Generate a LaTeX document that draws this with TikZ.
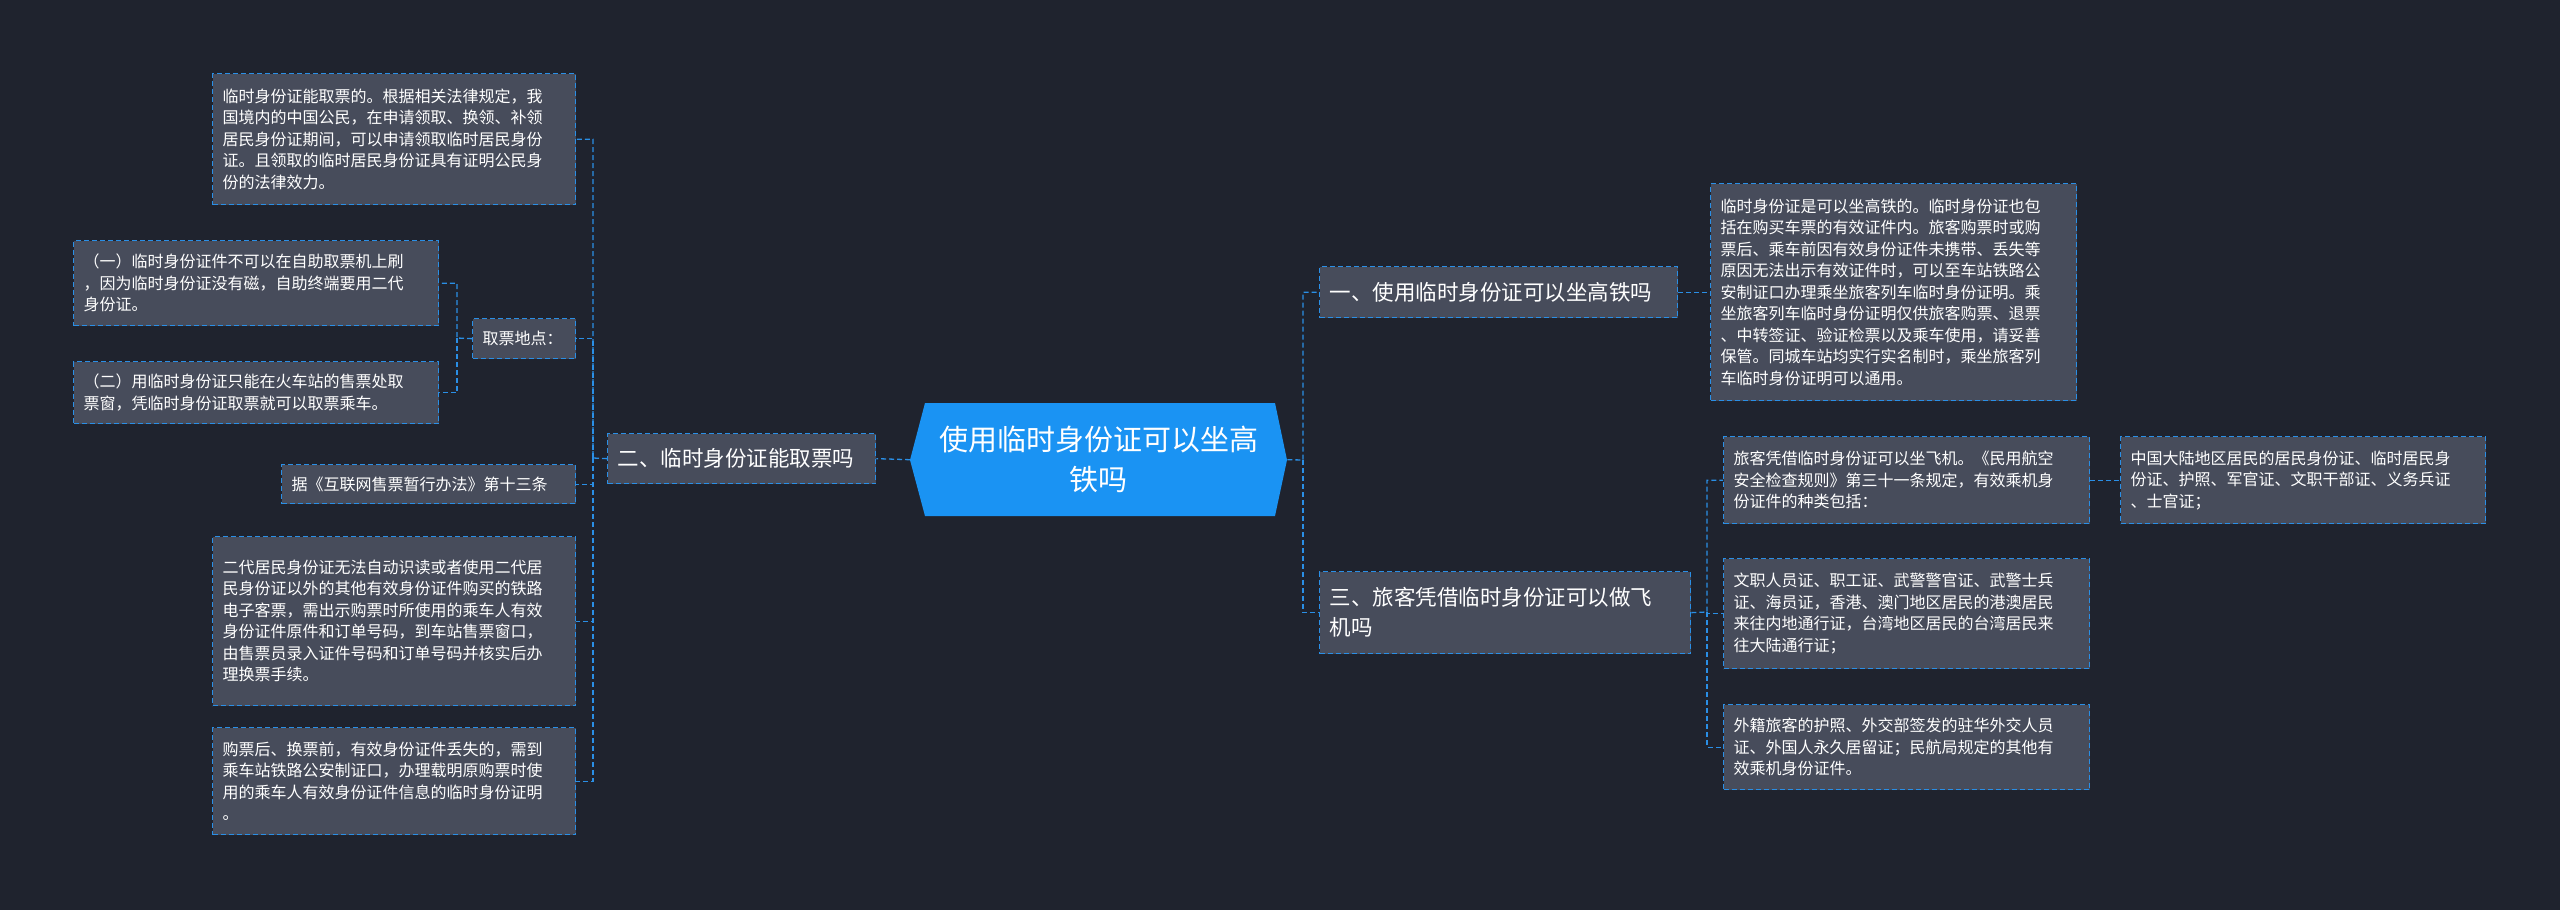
\documentclass[tikz,border=0pt]{standalone}
\usepackage{fontspec}
\setmainfont{Noto Sans CJK SC}
\definecolor{bg}{HTML}{1F232E}
\definecolor{boxc}{HTML}{474C5B}
\definecolor{edge}{HTML}{2A8FE6}
\definecolor{ctr}{HTML}{1A93F3}
\begin{document}
\begin{tikzpicture}[x=1pt,y=-1pt,
  box/.style={draw=edge, dash pattern=on 5pt off 3pt, fill=boxc, text=white, line width=1.3pt,
    anchor=north west, inner xsep=10pt, inner ysep=0pt, align=left,
    font=\fontsize{16}{21.5}\selectfont},
  br/.style={box, font=\fontsize{21.5}{30}\selectfont},
  con/.style={draw=edge, dash pattern=on 5pt off 3pt, line width=1.3pt}]
\fill[bg] (0,0) rectangle (2560,910);
\useasboundingbox (0,0) rectangle (2560,910);
% center
\fill[ctr] (925,403) -- (1275,403) -- (1287,460) -- (1275,516) -- (925,516) -- (910,460) -- cycle;
\node[text=white, align=center, font=\fontsize{29}{40}\selectfont, minimum width=377pt, minimum height=113pt, anchor=north west, inner sep=0pt] (c) at (910,403) {使用临时身份证可以坐高\\铁吗};
% branch 1
\node[br, minimum width=358pt, minimum height=51pt, text width=338pt] (b1) at (1319,266) {一、使用临时身份证可以坐高铁吗};
\node[box, minimum width=366pt, minimum height=217pt, text width=346pt] (r1) at (1710,183) {临时身份证是可以坐高铁的。临时身份证也包\\括在购买车票的有效证件内。旅客购票时或购\\票后、乘车前因有效身份证件未携带、丢失等\\原因无法出示有效证件时，可以至车站铁路公\\安制证口办理乘坐旅客列车临时身份证明。乘\\坐旅客列车临时身份证明仅供旅客购票、退票\\、中转签证、验证检票以及乘车使用，请妥善\\保管。同城车站均实行实名制时，乘坐旅客列\\车临时身份证明可以通用。};
% branch 3
\node[br, minimum width=371pt, minimum height=82pt, text width=351pt] (b3) at (1319,571) {三、旅客凭借临时身份证可以做飞\\机吗};
\node[box, minimum width=366pt, minimum height=87pt, text width=346pt] (r3a) at (1723,436) {旅客凭借临时身份证可以坐飞机。《民用航空\\安全检查规则》第三十一条规定，有效乘机身\\份证件的种类包括：};
\node[box, minimum width=366pt, minimum height=110pt, text width=346pt] (r3b) at (1723,558) {文职人员证、职工证、武警警官证、武警士兵\\证、海员证，香港、澳门地区居民的港澳居民\\来往内地通行证，台湾地区居民的台湾居民来\\往大陆通行证；};
\node[box, minimum width=366pt, minimum height=85pt, text width=346pt] (r3c) at (1723,704) {外籍旅客的护照、外交部签发的驻华外交人员\\证、外国人永久居留证；民航局规定的其他有\\效乘机身份证件。};
\node[box, minimum width=365pt, minimum height=87pt, text width=345pt] (r3d) at (2120,436) {中国大陆地区居民的居民身份证、临时居民身\\份证、护照、军官证、文职干部证、义务兵证\\、士官证；};
% branch 2
\node[br, minimum width=268pt, minimum height=50pt, text width=248pt] (b2) at (607,433) {二、临时身份证能取票吗};
\node[box, minimum width=363pt, minimum height=131pt, text width=343pt] (l1) at (212,73) {临时身份证能取票的。根据相关法律规定，我\\国境内的中国公民，在申请领取、换领、补领\\居民身份证期间，可以申请领取临时居民身份\\证。且领取的临时居民身份证具有证明公民身\\份的法律效力。};
\node[box, minimum width=103pt, minimum height=40pt, text width=83pt] (l2) at (472,318) {取票地点：};
\node[box, minimum width=365pt, minimum height=85pt, text width=345pt] (l2a) at (73,240) {（一）临时身份证件不可以在自助取票机上刷\\，因为临时身份证没有磁，自助终端要用二代\\身份证。};
\node[box, minimum width=365pt, minimum height=62pt, text width=345pt] (l2b) at (73,361) {（二）用临时身份证只能在火车站的售票处取\\票窗，凭临时身份证取票就可以取票乘车。};
\node[box, minimum width=294pt, minimum height=39pt, text width=274pt] (l3) at (281,464) {据《互联网售票暂行办法》第十三条};
\node[box, minimum width=363pt, minimum height=169pt, text width=343pt] (l4) at (212,536) {二代居民身份证无法自动识读或者使用二代居\\民身份证以外的其他有效身份证件购买的铁路\\电子客票，需出示购票时所使用的乘车人有效\\身份证件原件和订单号码，到车站售票窗口，\\由售票员录入证件号码和订单号码并核实后办\\理换票手续。};
\node[box, minimum width=363pt, minimum height=107pt, text width=343pt] (l5) at (212,727) {购票后、换票前，有效身份证件丢失的，需到\\乘车站铁路公安制证口，办理载明原购票时使\\用的乘车人有效身份证件信息的临时身份证明\\。};
% connectors
\draw[con] (c.east) -- (1303,460) |- (b1.west);
\draw[con] (1303,460) |- (b3.west);
\draw[con] (b1.east) -- (r1.west);
\draw[con] (b3.west -| b3.east) -- (1707,612) |- (r3a.west);
\draw[con] (1707,612) |- (r3b.west);
\draw[con] (1707,612) |- (r3c.west);
\draw[con] (r3a.east) -- (r3d.west);
\draw[con] (c.west) -- (b2.east);
\draw[con] (b2.west) -- (593,458) |- (l1.east);
\draw[con] (593,458) |- (l2.east);
\draw[con] (593,458) |- (l3.east);
\draw[con] (593,458) |- (l4.east);
\draw[con] (593,458) |- (l5.east);
\draw[con] (l2.west) -- (457,338) |- (l2a.east);
\draw[con] (457,338) |- (l2b.east);
\end{tikzpicture}
\end{document}
